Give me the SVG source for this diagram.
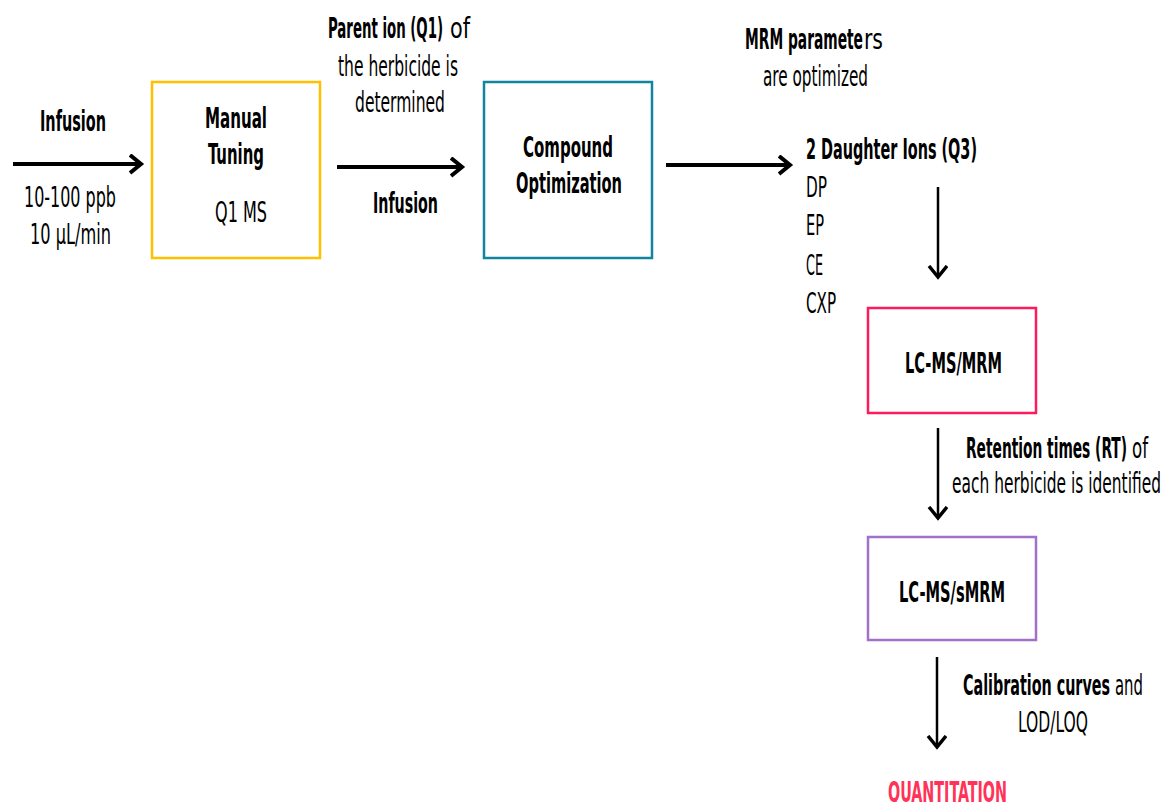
<svg xmlns="http://www.w3.org/2000/svg" width="1165" height="802" viewBox="0 0 1165 802">
<style>
text{font-family:"DejaVu Sans Condensed","DejaVu Sans",sans-serif;font-stretch:condensed;font-size:29px;fill:#000}
.b{font-weight:bold}
.box{fill:#fff;stroke-width:2.5}
.h{stroke:#000;stroke-width:4;fill:none}
.v{stroke:#000;stroke-width:2.5;fill:none}
</style>
<defs>
<marker id="ah" markerUnits="userSpaceOnUse" markerWidth="20" markerHeight="24" refX="12" refY="10" orient="auto" viewBox="0 0 20 24">
<path d="M1,1 L12,10 L1,19" fill="none" stroke="#000" stroke-width="4"/>
</marker>
<marker id="av" markerUnits="userSpaceOnUse" markerWidth="20" markerHeight="24" refX="12" refY="10" orient="auto" viewBox="0 0 20 24">
<path d="M1,1 L12,10 L1,19" fill="none" stroke="#000" stroke-width="3.5"/>
</marker>
</defs>
<g id="connectors">
<line class="h" x1="13" y1="164" x2="141" y2="164" marker-end="url(#ah)"/>
<line class="h" x1="337" y1="167" x2="462" y2="167" marker-end="url(#ah)"/>
<line class="h" x1="666" y1="165" x2="790" y2="165" marker-end="url(#ah)"/>
<line class="v" x1="938" y1="187" x2="938" y2="277" marker-end="url(#av)"/>
<line class="v" x1="938" y1="428" x2="938" y2="518" marker-end="url(#av)"/>
<line class="v" x1="937" y1="657" x2="937" y2="747" marker-end="url(#av)"/>
</g>
<g id="label-infusion-1">
<text class="b" x="40" y="131" textLength="66" lengthAdjust="spacingAndGlyphs">Infusion</text>
<text x="24" y="207" textLength="92" lengthAdjust="spacingAndGlyphs">10-100 ppb</text>
<text x="30" y="244" textLength="81" lengthAdjust="spacingAndGlyphs">10 μL/min</text>
</g>
<g id="node-manual-tuning">
<rect class="box" x="152" y="82" width="168" height="176" stroke="#FFC000"/>
<text class="b" x="205" y="128" textLength="62" lengthAdjust="spacingAndGlyphs">Manual</text>
<text class="b" x="208" y="164" textLength="56" lengthAdjust="spacingAndGlyphs">Tuning</text>
<text x="215" y="222" textLength="52" lengthAdjust="spacingAndGlyphs">Q1 MS</text>
</g>
<g id="label-parent-ion">
<text class="b" x="328" y="38" textLength="115" lengthAdjust="spacingAndGlyphs">Parent ion (Q1)</text>
<text x="450" y="38" textLength="20" lengthAdjust="spacingAndGlyphs">of</text>
<text x="338" y="76" textLength="120" lengthAdjust="spacingAndGlyphs">the herbicide is</text>
<text x="355" y="112" textLength="90" lengthAdjust="spacingAndGlyphs">determined</text>
<text class="b" x="373" y="213" textLength="65" lengthAdjust="spacingAndGlyphs">Infusion</text>
</g>
<g id="node-compound-optimization">
<rect class="box" x="484" y="82" width="168" height="176" stroke="#11849F"/>
<text class="b" x="523" y="157" textLength="90" lengthAdjust="spacingAndGlyphs">Compound</text>
<text class="b" x="516" y="193" textLength="106" lengthAdjust="spacingAndGlyphs">Optimization</text>
</g>
<g id="label-mrm">
<text class="b" x="745" y="49" textLength="118" lengthAdjust="spacingAndGlyphs">MRM paramete</text>
<text x="864" y="49" textLength="19" lengthAdjust="spacingAndGlyphs">rs</text>
<text x="763" y="86" textLength="105" lengthAdjust="spacingAndGlyphs">are optimized</text>
</g>
<g id="node-daughter-ions">
<text class="b" x="806" y="159" textLength="171" lengthAdjust="spacingAndGlyphs">2 Daughter Ions (Q3)</text>
<text x="806" y="197" textLength="21" lengthAdjust="spacingAndGlyphs">DP</text>
<text x="806" y="235" textLength="18" lengthAdjust="spacingAndGlyphs">EP</text>
<text x="806" y="275" textLength="17" lengthAdjust="spacingAndGlyphs">CE</text>
<text x="806" y="313" textLength="30" lengthAdjust="spacingAndGlyphs">CXP</text>
</g>
<g id="node-lc-ms-mrm">
<rect class="box" x="868" y="308" width="168" height="105" stroke="#FF1A5C"/>
<text class="b" x="905" y="373" textLength="97" lengthAdjust="spacingAndGlyphs">LC-MS/MRM</text>
</g>
<g id="label-retention">
<text class="b" x="966" y="458" textLength="161" lengthAdjust="spacingAndGlyphs">Retention times (RT)</text>
<text x="1132" y="458" textLength="16" lengthAdjust="spacingAndGlyphs">of</text>
<text x="952" y="493" textLength="209" lengthAdjust="spacingAndGlyphs">each herbicide is identified</text>
</g>
<g id="node-lc-ms-smrm">
<rect class="box" x="868" y="537" width="168" height="103" stroke="#A070CC"/>
<text class="b" x="899" y="602" textLength="106" lengthAdjust="spacingAndGlyphs">LC-MS/sMRM</text>
</g>
<g id="label-calibration">
<text class="b" x="963" y="695" textLength="147" lengthAdjust="spacingAndGlyphs">Calibration curves</text>
<text x="1115" y="695" textLength="28" lengthAdjust="spacingAndGlyphs">and</text>
<text x="1018" y="732" textLength="70" lengthAdjust="spacingAndGlyphs">LOD/LOQ</text>
</g>
<g id="node-quantitation">
<text class="b" x="888" y="802" textLength="119" lengthAdjust="spacingAndGlyphs" style="fill:#FF3358">QUANTITATION</text>
</g>
</svg>
